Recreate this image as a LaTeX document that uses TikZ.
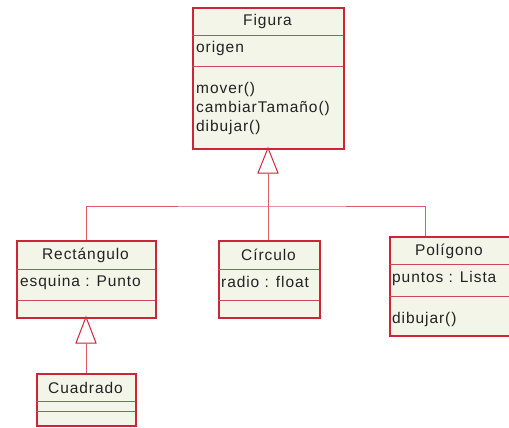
\documentclass[tikz,border=0pt]{standalone}
\usepackage{fontspec}
\setmainfont{Liberation Sans}[LetterSpace=6]
\definecolor{boxfill}{HTML}{F3F5E9}
\definecolor{boxline}{HTML}{CC2438}
\definecolor{sepline}{HTML}{D04858}
\definecolor{connline}{HTML}{D8606E}
\definecolor{txt}{HTML}{222222}
\tikzset{
  umlbox/.style={draw=boxline, line width=1.6pt, fill=boxfill, anchor=north west, inner sep=0pt},
  sepl/.style={draw=sepline, line width=0.9pt},
  conn/.style={draw=connline, line width=1pt},
  tri/.style={draw=boxline, line width=1pt, fill=white},
  ttl/.style={text=txt, font=\fontsize{15.5}{17}\selectfont, inner sep=0pt},
  mem/.style={text=txt, font=\fontsize{15.5}{17}\selectfont, inner sep=0pt, anchor=west},
}
\begin{document}
\begin{tikzpicture}[x=1pt,y=-1pt]
\useasboundingbox (0,0) rectangle (509,428);
\clip (0,0) rectangle (509,428);
% Figura
\node[umlbox, minimum width=151pt, minimum height=141pt] (fig) at (192,7) {};
\draw[sepl] (192,35) -- (343,35);
\draw[sepl] (192,66) -- (343,66);
\node[ttl] (figt) at (267.5,21) {Figura};
\node[mem] (figa) at (196,48) {origen};
\node[mem] (figm1) at (196,89) {mover()};
\node[mem] (figm2) at (196,108) {cambiarTamaño()};
\node[mem] (figm3) at (196,127) {dibujar()};
% Rectangulo
\node[umlbox, minimum width=139pt, minimum height=77pt] (rect) at (16,240) {};
\draw[sepl] (16,269) -- (155,269);
\draw[sepl] (16,300) -- (155,300);
\node[ttl] (rectt) at (85.5,255) {Rectángulo};
\node[mem] (recta) at (20,282) {esquina : Punto};
% Circulo
\node[umlbox, minimum width=101pt, minimum height=77pt] (circ) at (218,240) {};
\draw[sepl] (218,269) -- (319,269);
\draw[sepl] (218,300) -- (319,300);
\node[ttl] (circt) at (268.5,255) {Círculo};
\node[mem] (circa) at (221,282) {radio : float};
% Poligono
\node[umlbox, minimum width=200pt, minimum height=99pt] (poly) at (389,236) {};
\draw[sepl] (389,264) -- (589,264);
\draw[sepl] (389,296) -- (589,296);
\node[ttl] (polyt) at (449,251) {Polígono};
\node[mem] (polya) at (392,278) {puntos : Lista};
\node[mem] (polym) at (392,319) {dibujar()};
% Cuadrado
\node[umlbox, minimum width=99pt, minimum height=52pt] (cuad) at (36,373) {};
\draw[sepl] (36,401) -- (135,401);
\draw[sepl] (36,411) -- (135,411);
\node[ttl] (cuadt) at (85.5,388) {Cuadrado};
% connectors
\coordinate (t1a) at (268,148);
\coordinate (t1b) at (268,173);
\coordinate (j) at (268,206);
\coordinate (pt) at (425,236);
\draw[tri] (t1a) -- (278,173) -- (258,173) -- cycle;
\draw[conn] (t1b) -- (circ.north -| t1b);
\draw[conn] (rect.north) |- (j) -| (pt);
\coordinate (t2a) at (86,317);
\coordinate (t2b) at (86,343);
\draw[tri] (t2a) -- (96,343) -- (76,343) -- cycle;
\draw[conn] (t2b) -- (cuad.north -| t2b);
\end{tikzpicture}
\end{document}
